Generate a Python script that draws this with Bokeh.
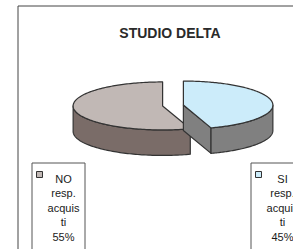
import numpy as np
from bokeh.plotting import figure
from bokeh.models import Range1d
from bokeh.embed import file_html
from bokeh.resources import INLINE
from bokeh.core.properties import value

# ---- data ----
title_text = "STUDIO DELTA"
categories = ["NO resp. acquisti", "SI resp. acquisti"]
shares = [55, 45]
label_lines = [["NO", "resp.", "acquis", "ti"], ["SI", "resp.", "acquis", "ti"]]

# ---- style ----
top_colors = ["#C1B8B5", "#CCECFA"]
side_colors = ["#7A6C68", "#808080"]
edge = "#333333"
FONT = value("Liberation Sans")

W, H = 293, 249
p = figure(width=W, height=H, output_backend="svg", toolbar_location=None,
           x_range=Range1d(0, W), y_range=Range1d(H, 0),
           min_border=0, outline_line_color=None, background_fill_color="white",
           border_fill_color="white")
p.axis.visible = False
p.grid.visible = False

# chart frame
p.quad(left=17.5, right=330, top=5.5, bottom=300, fill_color=None,
       line_color="#454545", line_width=1)

# title
p.text(x=[169.5], y=[32], text=[title_text], text_font=FONT, text_font_style="bold",
       text_font_size="14px", text_align="center", text_baseline="middle",
       text_color="#2a2a2a")

# ---- 3D exploded pie ----
cx, cy = 172.5, 105.0
rx, ry, depth = 89.5, 24.0, 25.5
explode = 10.5


def pt(x0, y0, ang_deg, dy=0.0):
    a = np.radians(ang_deg)
    return x0 + rx * np.cos(a), y0 - ry * np.sin(a) + dy


total = float(sum(shares))
cum = 0.0
for i, s in enumerate(shares):
    a0 = 90 + 360 * cum / total
    a1 = a0 + 360 * s / total
    cum += s
    mid = np.radians((a0 + a1) / 2)
    ox = cx + explode * np.cos(mid)
    oy = cy - explode * np.sin(mid) * (ry / rx)

    # visible cut faces
    for a, normal in ((a0, a0 - 90), (a1, a1 + 90)):
        if np.sin(np.radians(normal)) < -1e-6:
            px, py = pt(ox, oy, a)
            p.patch([ox, px, px, ox], [oy, py, py + depth, oy + depth],
                    fill_color=side_colors[i], line_color=edge, line_width=1.2,
                    line_join="round")

    # visible outer rim (front half)
    for lo, hi in ((180, 360), (540, 720)):
        s0, s1 = max(a0, lo), min(a1, hi)
        if s1 > s0:
            angs = np.linspace(s0, s1, 80)
            tx = ox + rx * np.cos(np.radians(angs))
            ty = oy - ry * np.sin(np.radians(angs))
            xs = list(tx) + list(tx[::-1])
            ys = list(ty) + list((ty + depth)[::-1])
            p.patch(xs, ys, fill_color=side_colors[i], line_color=edge,
                    line_width=1.2, line_join="round")

    # top face
    angs = np.linspace(a0, a1, 160)
    xs = [ox] + list(ox + rx * np.cos(np.radians(angs)))
    ys = [oy] + list(oy - ry * np.sin(np.radians(angs)))
    p.patch(xs, ys, fill_color=top_colors[i], line_color=edge, line_width=1.2,
            line_join="round")

# ---- legend boxes ----
box_left = [31.5, 250.5]
box_top = 162.5
box_w = 53
line_pitch = 14.5
first_baseline = 178
for i in range(len(categories)):
    bl = box_left[i]
    p.quad(left=bl, right=bl + box_w, top=box_top, bottom=300,
           fill_color="white", line_color="#555555", line_width=1)
    p.rect(x=[bl + 7.5], y=[174], width=6, height=6, fill_color=top_colors[i],
           line_color="#333333", line_width=1)
    pct = round(100 * shares[i] / total)
    lines = label_lines[i] + [f"{pct}%"]
    ys = [first_baseline + k * line_pitch for k in range(len(lines))]
    p.text(x=[bl + 31.5] * len(lines), y=ys, text=lines, text_font=FONT,
           text_font_size="11px", text_align="center", text_baseline="alphabetic",
           text_color="#1a1a1a")

open("out.html", "w").write(file_html(p, INLINE))
